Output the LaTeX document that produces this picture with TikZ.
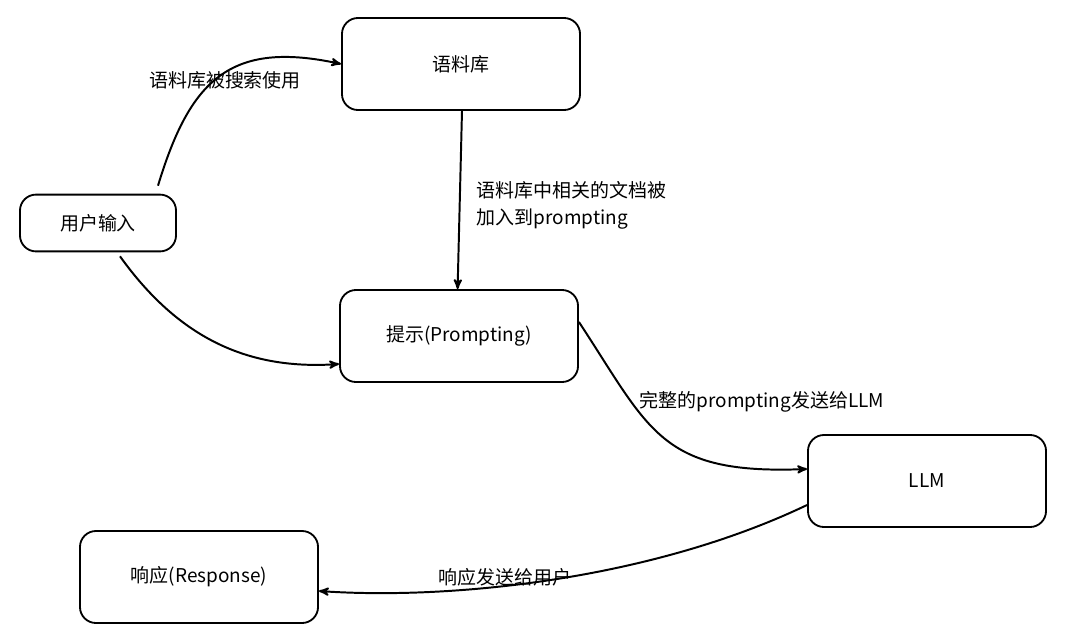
\documentclass[tikz,border=0pt]{standalone}
\usepackage{fontspec}
\setmainfont{Noto Sans CJK SC}
\usetikzlibrary{arrows,positioning}
\tikzset{
  box/.style = {draw=black, rounded corners=0.4cm, line width=1.3pt,
    minimum width=5.95cm, minimum height=2.3cm, font=\fontsize{13.5}{16}\selectfont},
  smallbox/.style = {box, minimum width=3.9cm, minimum height=1.42cm},
  link/.style = {->, >=stealth', line width=1.4pt},
  lbl/.style = {font=\fontsize{13.5}{19}\selectfont, align=left}
}
\begin{document}
\begin{tikzpicture}[x=0.025cm,y=-0.025cm]
  \useasboundingbox (0,0) rectangle (1080,639);
  \node [box] (corpus) at (461,64) {语料库};
  \node [smallbox] (input) at (98,223) {用户输入};
  \node [box] (prompt) at (459,336) {提示(Prompting)};
  \node [box] (llm) at (927,481) {LLM};
  \node [box] (resp) at (199,577) {响应(Response)};
  % connectors
  \draw [link] (input.north) ++(60,-8) coordinate (a)
     (a) .. controls (190,80) and (230,40) .. (corpus.west);
  \draw [link] (corpus.south) ++(1,0) -- ([xshift=-1pt]prompt.north);
  \draw [link] (input.south) ++(22,4) coordinate (b)
     (b) .. controls (180,340) and (250,370) .. ([yshift=-0.7cm]prompt.west);
  \draw [link] ([yshift=0.35cm]prompt.east) .. controls (650,430) and (660,475) .. ([yshift=0.3cm]llm.west);
  \draw [link] ([yshift=-0.6cm]llm.west) .. controls (650,580) and (450,600) .. ([yshift=-0.35cm]resp.east);
  % labels
  \node [lbl] (l1) at (225,80) {语料库被搜索使用};
  \node [lbl, anchor=west] (l2) at (472,205) {语料库中相关的文档被\\加入到prompting};
  \node [lbl] (l3) at (762,402) {完整的prompting发送给LLM};
  \node [lbl] (l4) at (505,577) {响应发送给用户};
\end{tikzpicture}
\end{document}
